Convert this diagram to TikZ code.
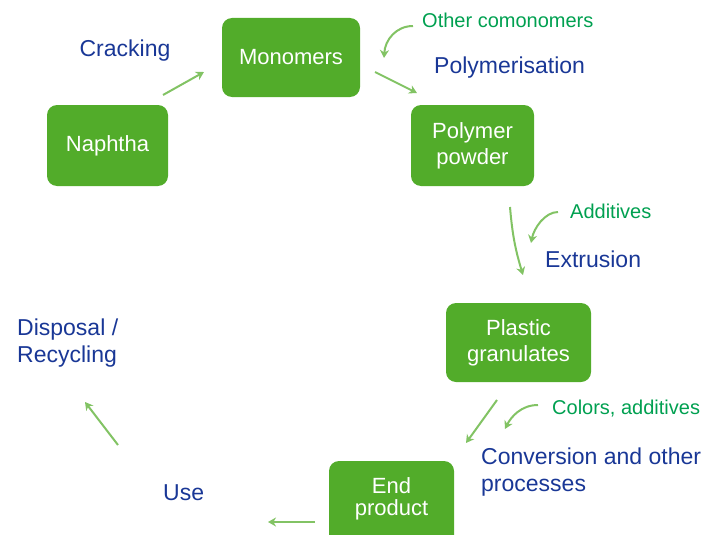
\documentclass[tikz,border=0pt]{standalone}
\usepackage{fontspec}
\setmainfont{Liberation Sans}
\usetikzlibrary{arrows.meta}
\definecolor{boxgreen}{RGB}{82,172,42}
\definecolor{arrowgreen}{RGB}{130,195,100}
\definecolor{labelblue}{RGB}{25,55,150}
\definecolor{labelgreen}{RGB}{0,160,80}
\tikzset{
  procbox/.style={fill=boxgreen, draw=none, rounded corners=10pt, inner sep=0pt,
    text=white, align=center, font=\fontsize{22}{26}\selectfont},
  steplabel/.style={text=labelblue, inner sep=0pt, align=left, font=\fontsize{23}{27}\selectfont},
  inputlabel/.style={text=labelgreen, inner sep=0pt, font=\fontsize{20}{24}\selectfont},
  flow/.style={draw=arrowgreen, line width=2pt, -{Stealth[length=8pt,width=9pt]}}
}
\begin{document}
\begin{tikzpicture}[x=1pt,y=-1pt]
\useasboundingbox (0,0) rectangle (712,535);
\clip (0,0) rectangle (712,535);
% boxes
\node[procbox, minimum width=138pt, minimum height=79pt] (mono) at (291,57.5) {Monomers};
\node[procbox, minimum width=121pt, minimum height=81pt] (naph) at (107.5,145.5) {Naphtha};
\node[procbox, minimum width=123pt, minimum height=81pt] (poly) at (472.5,145.5) {Polymer\\powder};
\node[procbox, minimum width=145pt, minimum height=79pt] (gran) at (518.5,342.5) {Plastic\\granulates};
\node[procbox, minimum width=125pt, minimum height=90pt] (endbox) at (391.5,506) {};
\node[text=white, align=center, inner sep=0pt, font=\fontsize{22}{22}\selectfont, anchor=base] (endtxt) at (391.5,515) {End\\product};
% step labels
\node[steplabel, anchor=base] (crack) at (125,57) {Cracking};
\node[steplabel, anchor=base west] (polym) at (434,74) {Polymerisation};
\node[steplabel, anchor=base west] (extr) at (545,267) {Extrusion};
\node[steplabel, anchor=base west] (conv) at (481,491) {Conversion and other\\processes};
\node[steplabel, anchor=base west] (disp) at (17,362) {Disposal /\\Recycling};
\node[steplabel, anchor=base west] (use) at (163,500) {Use};
% input labels
\node[inputlabel, anchor=base west] (como) at (422,28) {Other comonomers};
\node[inputlabel, anchor=base west] (addi) at (570,218) {Additives};
\node[inputlabel, anchor=base west] (colo) at (552,414) {Colors, additives};
% arrow end points
\coordinate (a1s) at (163,95);  \coordinate (a1e) at (204,72);
\coordinate (a2s) at (375,72);  \coordinate (a2e) at (417,93);
\coordinate (c1s) at (413,26);  \coordinate (c1e) at (384,58);
\coordinate (a3s) at (510,207); \coordinate (a3e) at (523,275);
\coordinate (c2s) at (558,212); \coordinate (c2e) at (531,243);
\coordinate (a4s) at (497,400); \coordinate (a4e) at (466,443);
\coordinate (c3s) at (538,405); \coordinate (c3e) at (505,429);
\coordinate (a5s) at (315,522); \coordinate (a5e) at (268,522);
\coordinate (a6s) at (118,445); \coordinate (a6e) at (85,402);
% arrows
\draw[flow] (a1s) -- (a1e);
\draw[flow] (a2s) -- (a2e);
\draw[flow] (c1s) .. controls (396,26) and (385,40) .. (c1e);
\draw[flow] (a3s) to[bend right=6] (a3e);
\draw[flow] (c2s) .. controls (545,212) and (534,228) .. (c2e);
\draw[flow] (a4s) -- (a4e);
\draw[flow] (c3s) .. controls (521,405) and (511,417) .. (c3e);
\draw[flow] (a5s) -- (a5e);
\draw[flow] (a6s) -- (a6e);
\end{tikzpicture}
\end{document}
